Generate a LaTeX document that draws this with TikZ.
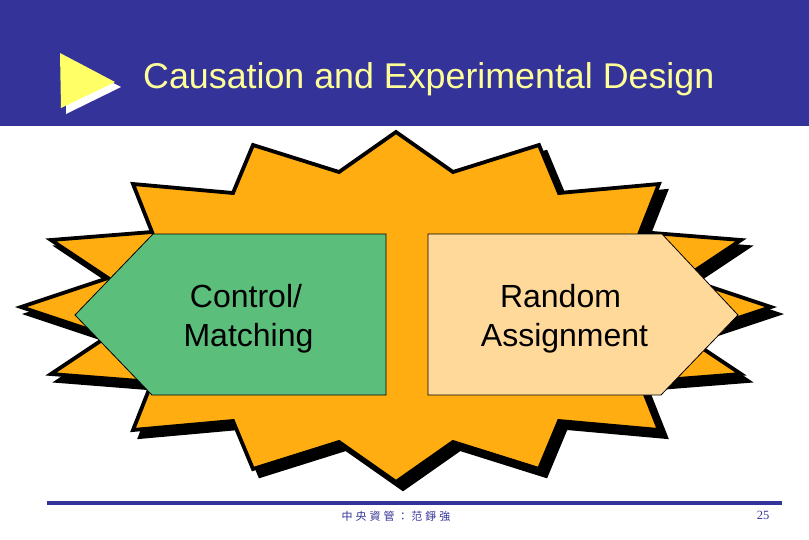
\documentclass[tikz,border=0pt]{standalone}
\usepackage{fontspec}
\setmainfont{Liberation Sans}
\newfontfamily\serifnum{Liberation Serif}
\newfontfamily\cjkfont[LetterSpace=27]{Noto Sans CJK TC}
\definecolor{banner}{HTML}{333399}
\definecolor{burst}{HTML}{FFAD10}
\definecolor{greenbox}{HTML}{5BBF7B}
\definecolor{tanbox}{HTML}{FFD999}
\definecolor{titleyellow}{HTML}{FFFF99}
\definecolor{tri}{HTML}{FFFF66}
\def\burstpath{(396,132) -- (453,172) -- (539,145) -- (559,193) -- (659,184) -- (640,232) -- (741,240) -- (684,278) -- (771,307) -- (684,336) -- (741,374) -- (640,382) -- (659,430) -- (559,421) -- (539,469) -- (453,442) -- (396,482) -- (339,442) -- (253,469) -- (233,421) -- (133,430) -- (152,382) -- (51,374) -- (108,336) -- (21,307) -- (108,278) -- (51,240) -- (152,232) -- (133,184) -- (233,193) -- (253,145) -- (339,172) -- cycle}
\tikzset{
  x=1pt,y=-1pt,
  boxline/.style={draw=black,line width=0.8pt,line join=miter},
  label/.style={font=\fontsize{32}{39}\selectfont,align=center,text=black,inner sep=0pt},
}
\begin{document}
\begin{tikzpicture}
\useasboundingbox (0,0) rectangle (809,539);
\fill[white] (0,0) rectangle (809,539);
\fill[banner] (0,0) rectangle (809,126);
\fill[white] (66,59) -- (121,87) -- (66,114) -- cycle;
\fill[tri] (60,53) -- (115,82) -- (61,108) -- cycle;
\node[font=\fontsize{35.8}{42}\selectfont,text=titleyellow,anchor=base west,inner sep=0pt] (title) at (143,88) {Causation and Experimental Design};
\begin{scope}[shift={(7,7)}]
\fill[black,draw=black,line width=3.8pt,line join=miter] \burstpath;
\end{scope}
\fill[burst,draw=black,line width=3.8pt,line join=miter] \burstpath;
\draw[boxline,fill=greenbox] (153,234) -- (386,234) -- (386,395) -- (152,395) -- (75,315) -- cycle;
\draw[boxline,fill=tanbox] (428,234) -- (662,234) -- (738,315) -- (661,395) -- (428,395) -- cycle;
\node[label] (control) at (248.5,319) {Control/\hspace*{5pt}\\Matching};
\node[label] (random) at (564.5,319) {Random\hspace*{8pt}\\Assignment};
\fill[banner] (47,500.7) rectangle (782,504.7);
\node[font=\fontsize{11}{12}\selectfont\cjkfont,text=banner,inner sep=0pt] (footer) at (396,516) {中央資管：范錚強};
\node[font=\fontsize{12.5}{14}\selectfont\serifnum,text=banner,inner sep=0pt] (page) at (763,515) {25};
\end{tikzpicture}
\end{document}
